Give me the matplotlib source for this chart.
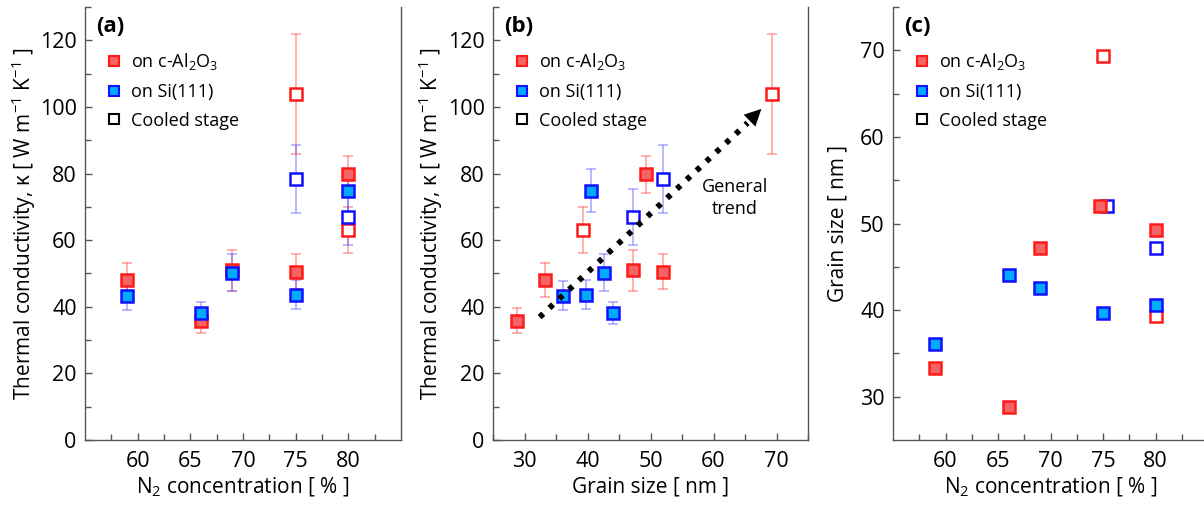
import matplotlib
matplotlib.use("Agg")
import matplotlib.pyplot as plt
from matplotlib.lines import Line2D

plt.rcParams['font.family'] = ['Open Sans', 'DejaVu Sans']
plt.rcParams['mathtext.fontset'] = 'custom'
plt.rcParams['mathtext.rm'] = 'Open Sans'
plt.rcParams['mathtext.it'] = 'Open Sans:italic'

# on c-Al2O3 (filled red)
al_n2 = [59, 66, 69, 75, 80]
al_n2_c = [59, 66, 69, 74.7, 80]
al_grain = [33.3, 28.8, 47.2, 52.0, 49.3]
al_kappa = [48.1, 35.8, 50.9, 50.5, 79.8]
al_err = [5.1, 3.7, 6.2, 5.3, 5.5]

# on c-Al2O3, cooled stage (open red)
alc_n2 = [75, 80]
alc_grain = [69.3, 39.3]
alc_kappa = [104.0, 63.0]
alc_err = [18.0, 7.0]

# on Si(111) (filled blue)
si_n2 = [59, 66, 69, 75, 80]
si_grain = [36.1, 44.1, 42.6, 39.7, 40.6]
si_kappa = [43.3, 38.1, 50.2, 43.6, 74.9]
si_err = [4.3, 3.2, 5.5, 4.3, 6.5]

# on Si(111), cooled stage (open blue)
sic_n2 = [75, 80]
sic_n2_c = [75.4, 80]
sic_grain = [52.0, 47.2]
sic_kappa = [78.4, 66.9]
sic_err = [10.3, 8.4]

RED = '#ff1a1a'
RED_FACE = '#f46464'
BLUE = '#1010ff'
BLUE_FACE = '#00aaff'

styles = {
    'al': dict(mec=RED, mfc=RED_FACE, ecolor=(1, 0.3, 0.3, 0.55)),
    'alc': dict(mec=RED, mfc='white', ecolor=(1, 0.3, 0.3, 0.55)),
    'si': dict(mec=BLUE, mfc=BLUE_FACE, ecolor=(0.3, 0.3, 1, 0.5)),
    'sic': dict(mec=BLUE, mfc='white', ecolor=(0.3, 0.3, 1, 0.5)),
}


def draw(ax, key, x, y, err=None, z=3):
    st = styles[key]
    if err is not None:
        ax.errorbar(x, y, yerr=err, fmt='none', ecolor=st['ecolor'],
                    elinewidth=1.1, capsize=3.8, capthick=1.1, zorder=2)
    ax.plot(x, y, ls='none', marker='s', ms=8.5, mew=1.8,
            mec=st['mec'], mfc=st['mfc'], zorder=z)


def style_axes(ax):
    ax.spines['top'].set_visible(False)
    for s in ['left', 'bottom', 'right']:
        ax.spines[s].set_color('#555555')
        ax.spines[s].set_linewidth(1.0)
    ax.tick_params(which='both', direction='in', top=False, right=False,
                   labelsize=15.5, color='#555555')
    ax.tick_params(which='major', length=5, width=1.0)
    ax.tick_params(which='minor', length=4, width=1.0)
    ax.tick_params(axis='x', which='both', pad=8)
    ax.tick_params(axis='y', which='both', pad=6)


def add_legend(ax, x0, y0):
    handles = [
        Line2D([], [], ls='none', marker='s', ms=7, mew=1.5, mec=RED, mfc=RED_FACE),
        Line2D([], [], ls='none', marker='s', ms=7, mew=1.5, mec=BLUE, mfc=BLUE_FACE),
        Line2D([], [], ls='none', marker='s', ms=7, mew=1.5, mec='black', mfc='white'),
    ]
    labels = ['on c-Al$_2$O$_3$', 'on Si(111)', 'Cooled stage']
    ax.legend(handles, labels, loc='upper left', bbox_to_anchor=(x0, y0),
              frameon=False, fontsize=13, handlelength=0.8, handletextpad=0.55,
              labelspacing=0.6, borderaxespad=0)


fig = plt.figure(figsize=(12.04, 5.05), dpi=100)
W, H = 1204, 505
ax_a = fig.add_axes([85 / W, 1 - 440 / H, 316 / W, 433 / H])
ax_b = fig.add_axes([493 / W, 1 - 440 / H, 315 / W, 433 / H])
ax_c = fig.add_axes([893 / W, 1 - 440 / H, 315 / W, 433 / H])

# (a) kappa vs N2
draw(ax_a, 'alc', alc_n2, alc_kappa, alc_err, z=3)
draw(ax_a, 'sic', sic_n2, sic_kappa, sic_err, z=4)
draw(ax_a, 'al', al_n2, al_kappa, al_err, z=5)
draw(ax_a, 'si', si_n2, si_kappa, si_err, z=6)
ax_a.set_xlim(55, 85)
ax_a.set_ylim(0, 130)
ax_a.set_xticks([60, 65, 70, 75, 80])
ax_a.set_xticks([57.5, 62.5, 67.5, 72.5, 77.5, 82.5], minor=True)
ax_a.set_yticks([0, 20, 40, 60, 80, 100, 120])
ax_a.set_yticks([10, 30, 50, 70, 90, 110, 130], minor=True)
ax_a.set_xlabel('N$_2$ concentration [ % ]', fontsize=15, labelpad=3)
ax_a.set_ylabel('Thermal conductivity, κ [ W m$^{-1}$ K$^{-1}$ ]', fontsize=15, labelpad=1)

# (b) kappa vs grain size
draw(ax_b, 'alc', alc_grain, alc_kappa, alc_err, z=3)
draw(ax_b, 'sic', sic_grain, sic_kappa, sic_err, z=4)
draw(ax_b, 'al', al_grain, al_kappa, al_err, z=5)
draw(ax_b, 'si', si_grain, si_kappa, si_err, z=6)
ax_b.plot([32.4, 65.4], [36.9, 95.2], color='black', lw=4.2,
          ls=(0, (0.85, 1.45)), dash_capstyle='butt', zorder=7)
ax_b.annotate('', xy=(67.6, 99.4), xytext=(64.6, 93.8),
              arrowprops=dict(arrowstyle='-|>', mutation_scale=30, color='black',
                              lw=0, shrinkA=0, shrinkB=0), zorder=7)
ax_b.text(63.4, 72.6, 'General\ntrend', ha='center', va='center', fontsize=13,
          linespacing=1.3)
ax_b.set_xlim(25, 75)
ax_b.set_ylim(0, 130)
ax_b.set_xticks([30, 40, 50, 60, 70])
ax_b.set_xticks([25, 35, 45, 55, 65, 75], minor=True)
ax_b.set_yticks([0, 20, 40, 60, 80, 100, 120])
ax_b.set_yticks([10, 30, 50, 70, 90, 110, 130], minor=True)
ax_b.set_xlabel('Grain size [ nm ]', fontsize=15, labelpad=3)
ax_b.set_ylabel('Thermal conductivity, κ [ W m$^{-1}$ K$^{-1}$ ]', fontsize=15, labelpad=2)

# (c) grain size vs N2
draw(ax_c, 'alc', alc_n2, alc_grain, z=3)
draw(ax_c, 'sic', sic_n2_c, sic_grain, z=4)
draw(ax_c, 'al', al_n2_c, al_grain, z=5)
draw(ax_c, 'si', si_n2, si_grain, z=6)
ax_c.set_xlim(55, 85)
ax_c.set_ylim(25, 75)
ax_c.set_xticks([60, 65, 70, 75, 80])
ax_c.set_xticks([57.5, 62.5, 67.5, 72.5, 77.5, 82.5], minor=True)
ax_c.set_yticks([30, 40, 50, 60, 70])
ax_c.set_yticks([35, 45, 55, 65, 75], minor=True)
ax_c.set_xlabel('N$_2$ concentration [ % ]', fontsize=15, labelpad=3)
ax_c.set_ylabel('Grain size [ nm ]', fontsize=15, labelpad=8)

for ax, lab in [(ax_a, 'a'), (ax_b, 'b'), (ax_c, 'c')]:
    style_axes(ax)
    ax.text(0.035, 0.98, f'({lab})', transform=ax.transAxes, ha='left', va='top',
            fontsize=16, fontweight='bold')
    add_legend(ax, 0.045, 0.915)

fig.savefig('out.png', dpi=100)
